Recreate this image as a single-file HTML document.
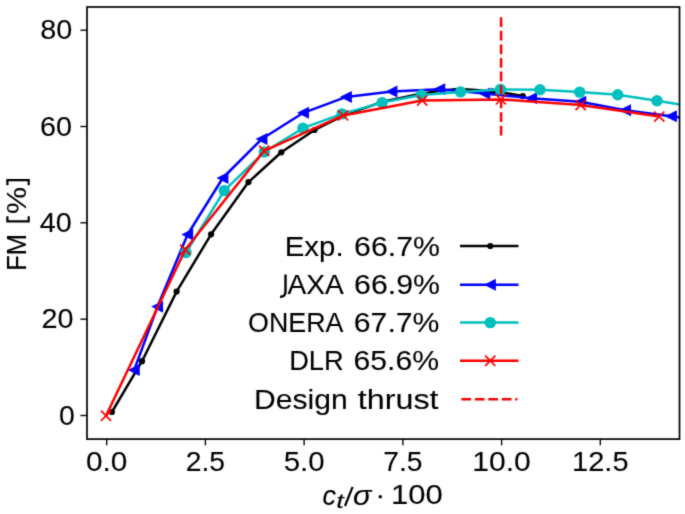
<!DOCTYPE html>
<html><head><meta charset="utf-8"><title>FM vs ct/sigma</title>
<style>html,body{margin:0;padding:0;background:#fff;}svg{display:block;}text{font-family:"Liberation Sans",sans-serif;fill:#000000;stroke:#000;stroke-width:0.1px;}</style></head><body>
<svg width="685" height="514" viewBox="0 0 685 514">
<defs><filter id="bl" filterUnits="userSpaceOnUse" x="0" y="0" width="685" height="514" color-interpolation-filters="sRGB"><feConvolveMatrix order="3" kernelMatrix="0.01917 0.10012 0.01917 0.10012 0.52283 0.10012 0.01917 0.10012 0.01917" divisor="1" edgeMode="duplicate" preserveAlpha="true"/></filter><clipPath id="ax"><rect x="87.0" y="7.0" width="592.5" height="432.1"/></clipPath></defs>
<g filter="url(#bl)">
<rect x="0" y="0" width="685" height="514" fill="#ffffff"/>
<g clip-path="url(#ax)" fill="none" stroke-linejoin="round">
<polyline points="111.9,412.0 142.0,361.2 176.6,291.6 211.1,234.3 248.5,182.1 281.3,152.3 314.5,130.0 347.0,114.0 384.0,101.4 416.0,94.8 440.0,90.8 458.0,89.0 476.0,90.0 492.5,91.4 507.0,93.2 522.8,96.0" stroke="#000000" stroke-width="2.5"/>
<circle cx="111.9" cy="412.0" r="3.1" fill="#000000"/>
<circle cx="142.0" cy="361.2" r="3.1" fill="#000000"/>
<circle cx="176.6" cy="291.6" r="3.1" fill="#000000"/>
<circle cx="211.1" cy="234.3" r="3.1" fill="#000000"/>
<circle cx="248.5" cy="182.1" r="3.1" fill="#000000"/>
<circle cx="281.3" cy="152.3" r="3.1" fill="#000000"/>
<circle cx="314.5" cy="130.0" r="3.1" fill="#000000"/>
<circle cx="492.5" cy="91.4" r="3.1" fill="#000000"/>
<circle cx="522.8" cy="96.0" r="3.1" fill="#000000"/>
<polyline points="134.2,370.0 157.5,306.6 187.6,234.5 222.8,178.0 261.8,139.0 303.4,112.8 346.3,96.9 391.9,91.5 439.6,89.2 484.6,93.4 531.4,98.3 580.6,101.8 625.4,110.2 671.2,116.3 718.0,122.3" stroke="#0000ff" stroke-width="2.5"/>
<polygon points="129.2,370.0 139.1,365.1 139.1,374.9" fill="#0000ff" stroke="#0000ff" stroke-width="1.3" stroke-linejoin="miter"/>
<polygon points="152.6,306.6 162.4,301.7 162.4,311.6" fill="#0000ff" stroke="#0000ff" stroke-width="1.3" stroke-linejoin="miter"/>
<polygon points="182.7,234.5 192.5,229.6 192.5,239.4" fill="#0000ff" stroke="#0000ff" stroke-width="1.3" stroke-linejoin="miter"/>
<polygon points="217.9,178.0 227.8,173.1 227.8,182.9" fill="#0000ff" stroke="#0000ff" stroke-width="1.3" stroke-linejoin="miter"/>
<polygon points="256.9,139.0 266.8,134.1 266.8,143.9" fill="#0000ff" stroke="#0000ff" stroke-width="1.3" stroke-linejoin="miter"/>
<polygon points="298.4,112.8 308.3,107.8 308.3,117.8" fill="#0000ff" stroke="#0000ff" stroke-width="1.3" stroke-linejoin="miter"/>
<polygon points="341.4,96.9 351.2,92.0 351.2,101.9" fill="#0000ff" stroke="#0000ff" stroke-width="1.3" stroke-linejoin="miter"/>
<polygon points="386.9,91.5 396.8,86.5 396.8,96.5" fill="#0000ff" stroke="#0000ff" stroke-width="1.3" stroke-linejoin="miter"/>
<polygon points="434.7,89.2 444.6,84.2 444.6,94.2" fill="#0000ff" stroke="#0000ff" stroke-width="1.3" stroke-linejoin="miter"/>
<polygon points="479.7,93.4 489.6,88.5 489.6,98.4" fill="#0000ff" stroke="#0000ff" stroke-width="1.3" stroke-linejoin="miter"/>
<polygon points="526.4,98.3 536.4,93.3 536.4,103.2" fill="#0000ff" stroke="#0000ff" stroke-width="1.3" stroke-linejoin="miter"/>
<polygon points="575.6,101.8 585.6,96.8 585.6,106.8" fill="#0000ff" stroke="#0000ff" stroke-width="1.3" stroke-linejoin="miter"/>
<polygon points="620.4,110.2 630.4,105.2 630.4,115.2" fill="#0000ff" stroke="#0000ff" stroke-width="1.3" stroke-linejoin="miter"/>
<polygon points="666.2,116.3 676.2,111.3 676.2,121.2" fill="#0000ff" stroke="#0000ff" stroke-width="1.3" stroke-linejoin="miter"/>
<polygon points="713.0,122.3 723.0,117.3 723.0,127.2" fill="#0000ff" stroke="#0000ff" stroke-width="1.3" stroke-linejoin="miter"/>
<polyline points="186.0,252.5 224.3,190.6 264.3,152.0 302.9,128.2 342.0,113.9 382.1,102.6 421.4,95.0 460.6,91.9 500.5,89.4 540.0,89.8 579.7,92.1 617.7,94.7 657.0,100.8 697.0,107.1" stroke="#00bfbf" stroke-width="2.5"/>
<circle cx="186.0" cy="252.5" r="5.7" fill="#00bfbf"/>
<circle cx="224.3" cy="190.6" r="5.7" fill="#00bfbf"/>
<circle cx="264.3" cy="152.0" r="5.7" fill="#00bfbf"/>
<circle cx="302.9" cy="128.2" r="5.7" fill="#00bfbf"/>
<circle cx="342.0" cy="113.9" r="5.7" fill="#00bfbf"/>
<circle cx="382.1" cy="102.6" r="5.7" fill="#00bfbf"/>
<circle cx="421.4" cy="95.0" r="5.7" fill="#00bfbf"/>
<circle cx="460.6" cy="91.9" r="5.7" fill="#00bfbf"/>
<circle cx="500.5" cy="89.4" r="5.7" fill="#00bfbf"/>
<circle cx="540.0" cy="89.8" r="5.7" fill="#00bfbf"/>
<circle cx="579.7" cy="92.1" r="5.7" fill="#00bfbf"/>
<circle cx="617.7" cy="94.7" r="5.7" fill="#00bfbf"/>
<circle cx="657.0" cy="100.8" r="5.7" fill="#00bfbf"/>
<circle cx="697.0" cy="107.1" r="5.7" fill="#00bfbf"/>
<polyline points="106.0,415.8 185.2,249.8 264.2,150.8 343.2,115.4 422.2,100.6 500.9,99.4 580.6,105.1 659.3,116.6" stroke="#ff0000" stroke-width="2.5"/>
<path d="M100.9,410.7L111.1,420.9M100.9,420.9L111.1,410.7" stroke="#ff0000" stroke-width="1.7" fill="none"/>
<path d="M180.1,244.7L190.3,254.9M180.1,254.9L190.3,244.7" stroke="#ff0000" stroke-width="1.7" fill="none"/>
<path d="M259.1,145.7L269.3,155.9M259.1,155.9L269.3,145.7" stroke="#ff0000" stroke-width="1.7" fill="none"/>
<path d="M338.1,110.3L348.3,120.5M338.1,120.5L348.3,110.3" stroke="#ff0000" stroke-width="1.7" fill="none"/>
<path d="M417.1,95.5L427.3,105.7M417.1,105.7L427.3,95.5" stroke="#ff0000" stroke-width="1.7" fill="none"/>
<path d="M495.8,94.3L506.0,104.5M495.8,104.5L506.0,94.3" stroke="#ff0000" stroke-width="1.7" fill="none"/>
<path d="M575.5,100.0L585.7,110.2M575.5,110.2L585.7,100.0" stroke="#ff0000" stroke-width="1.7" fill="none"/>
<path d="M654.2,111.5L664.4,121.7M654.2,121.7L664.4,111.5" stroke="#ff0000" stroke-width="1.7" fill="none"/>
<line x1="501.1" y1="17.3" x2="501.1" y2="135.7" stroke="#ff0000" stroke-width="2.5" stroke-dasharray="9.75 3.8"/>
</g>
<rect x="87.0" y="7.0" width="592.5" height="432.1" fill="none" stroke="#000000" stroke-width="1.7"/>
<line x1="106.7" y1="439.1" x2="106.7" y2="445.3" stroke="#000000" stroke-width="1.35"/>
<text x="106.7" y="470.5" font-size="28.3" text-anchor="middle" textLength="41.4" lengthAdjust="spacingAndGlyphs">0.0</text>
<line x1="205.4" y1="439.1" x2="205.4" y2="445.3" stroke="#000000" stroke-width="1.35"/>
<text x="205.4" y="470.5" font-size="28.3" text-anchor="middle" textLength="39.3" lengthAdjust="spacingAndGlyphs">2.5</text>
<line x1="304.1" y1="439.1" x2="304.1" y2="445.3" stroke="#000000" stroke-width="1.35"/>
<text x="304.1" y="470.5" font-size="28.3" text-anchor="middle" textLength="40.9" lengthAdjust="spacingAndGlyphs">5.0</text>
<line x1="402.9" y1="439.1" x2="402.9" y2="445.3" stroke="#000000" stroke-width="1.35"/>
<text x="402.9" y="470.5" font-size="28.3" text-anchor="middle" textLength="39.3" lengthAdjust="spacingAndGlyphs">7.5</text>
<line x1="501.6" y1="439.1" x2="501.6" y2="445.3" stroke="#000000" stroke-width="1.35"/>
<text x="501.6" y="470.5" font-size="28.3" text-anchor="middle" textLength="58.5" lengthAdjust="spacingAndGlyphs">10.0</text>
<line x1="600.3" y1="439.1" x2="600.3" y2="445.3" stroke="#000000" stroke-width="1.35"/>
<text x="600.3" y="470.5" font-size="28.3" text-anchor="middle" textLength="56.5" lengthAdjust="spacingAndGlyphs">12.5</text>
<line x1="87.0" y1="415.5" x2="80.4" y2="415.5" stroke="#000000" stroke-width="1.35"/>
<text x="74.7" y="424.7" font-size="28.3" text-anchor="end" textLength="15.8" lengthAdjust="spacingAndGlyphs">0</text>
<line x1="87.0" y1="319.2" x2="80.4" y2="319.2" stroke="#000000" stroke-width="1.35"/>
<text x="73.4" y="328.4" font-size="28.3" text-anchor="end" textLength="32.0" lengthAdjust="spacingAndGlyphs">20</text>
<line x1="87.0" y1="222.8" x2="80.4" y2="222.8" stroke="#000000" stroke-width="1.35"/>
<text x="71.8" y="232.0" font-size="28.3" text-anchor="end" textLength="32.0" lengthAdjust="spacingAndGlyphs">40</text>
<line x1="87.0" y1="126.5" x2="80.4" y2="126.5" stroke="#000000" stroke-width="1.35"/>
<text x="72.0" y="135.7" font-size="28.3" text-anchor="end" textLength="32.0" lengthAdjust="spacingAndGlyphs">60</text>
<line x1="87.0" y1="30.2" x2="80.4" y2="30.2" stroke="#000000" stroke-width="1.35"/>
<text x="72.3" y="39.4" font-size="28.3" text-anchor="end" textLength="32.0" lengthAdjust="spacingAndGlyphs">80</text>
<text transform="translate(25.8,270.8) rotate(-90)" font-size="27.0" textLength="37.0" lengthAdjust="spacingAndGlyphs">FM</text>
<path d="M7.4,216.3L7.4,221.4L28.7,221.4L28.7,216.3" fill="none" stroke="#000" stroke-width="2.2"/>
<text transform="translate(25.7,213.9) rotate(-90)" font-size="27.0" textLength="27.0" lengthAdjust="spacingAndGlyphs">%</text>
<path d="M7.4,185.3L7.4,180.2L28.7,180.2L28.7,185.3" fill="none" stroke="#000" stroke-width="2.2"/>
<text x="322.6" y="504.5" font-size="27.0" font-style="italic">c</text>
<text x="336.3" y="508" font-size="19.4" font-style="italic" textLength="7.6" lengthAdjust="spacingAndGlyphs">t</text>
<line x1="345.0" y1="506.0" x2="352.6" y2="486.8" stroke="#000" stroke-width="2.2"/>
<text x="353" y="504.5" font-size="27.0" font-style="italic" textLength="18.4" lengthAdjust="spacingAndGlyphs">σ</text>
<circle cx="380.3" cy="496.8" r="1.75" fill="#000"/>
<text x="442.8" y="504.1" font-size="28.3" text-anchor="end" textLength="51.8" lengthAdjust="spacingAndGlyphs">100</text>
<text x="284.7" y="255.6" font-size="27.0" text-anchor="start" textLength="58.9" lengthAdjust="spacingAndGlyphs">Exp.</text>
<text x="354.1" y="255.6" font-size="27.0" text-anchor="start" textLength="85.9" lengthAdjust="spacingAndGlyphs">66.7%</text>
<text x="287.6" y="293.7" font-size="27.0" text-anchor="start" textLength="56.3" lengthAdjust="spacingAndGlyphs">AXA</text>
<text x="354.1" y="293.7" font-size="27.0" text-anchor="start" textLength="85.9" lengthAdjust="spacingAndGlyphs">66.9%</text>
<text x="248.1" y="331.6" font-size="27.0" text-anchor="start" textLength="95.4" lengthAdjust="spacingAndGlyphs">ONERA</text>
<text x="353.8" y="331.6" font-size="27.0" text-anchor="start" textLength="85.7" lengthAdjust="spacingAndGlyphs">67.7%</text>
<text x="289.2" y="370.2" font-size="27.0" text-anchor="start" textLength="54.5" lengthAdjust="spacingAndGlyphs">DLR</text>
<text x="353.5" y="370.2" font-size="27.0" text-anchor="start" textLength="85.6" lengthAdjust="spacingAndGlyphs">65.6%</text>
<text x="254.0" y="408.7" font-size="27.0" text-anchor="start" textLength="93.6" lengthAdjust="spacingAndGlyphs">Design</text>
<text x="357.8" y="408.7" font-size="27.0" text-anchor="start" textLength="80.8" lengthAdjust="spacingAndGlyphs">thrust</text>
<path d="M285.5,274.6L285.5,291.6Q285.5,297.0 280.0,296.7" fill="none" stroke="#000" stroke-width="2.4"/>
<line x1="460.0" y1="246.0" x2="518.5" y2="246.0" stroke="#000" stroke-width="2.5"/><circle cx="490.3" cy="246.0" r="3.1" fill="#000"/>
<line x1="460.0" y1="284.8" x2="518.5" y2="284.8" stroke="#0000ff" stroke-width="2.5"/><polygon points="485.4,284.8 495.2,279.9 495.2,289.8" fill="#0000ff" stroke="#0000ff" stroke-width="1.3" stroke-linejoin="miter"/>
<line x1="460.0" y1="322.6" x2="518.5" y2="322.6" stroke="#00bfbf" stroke-width="2.5"/><circle cx="490.3" cy="322.6" r="5.7" fill="#00bfbf"/>
<line x1="460.0" y1="360.8" x2="518.5" y2="360.8" stroke="#ff0000" stroke-width="2.5"/><path d="M485.2,355.7L495.4,365.9M485.2,365.9L495.4,355.7" stroke="#ff0000" stroke-width="1.7" fill="none"/>
<line x1="461.4" y1="399.2" x2="517.3" y2="399.2" stroke="#ff0000" stroke-width="2.5" stroke-dasharray="9.7 3.75"/>
</g>
</svg></body></html>
